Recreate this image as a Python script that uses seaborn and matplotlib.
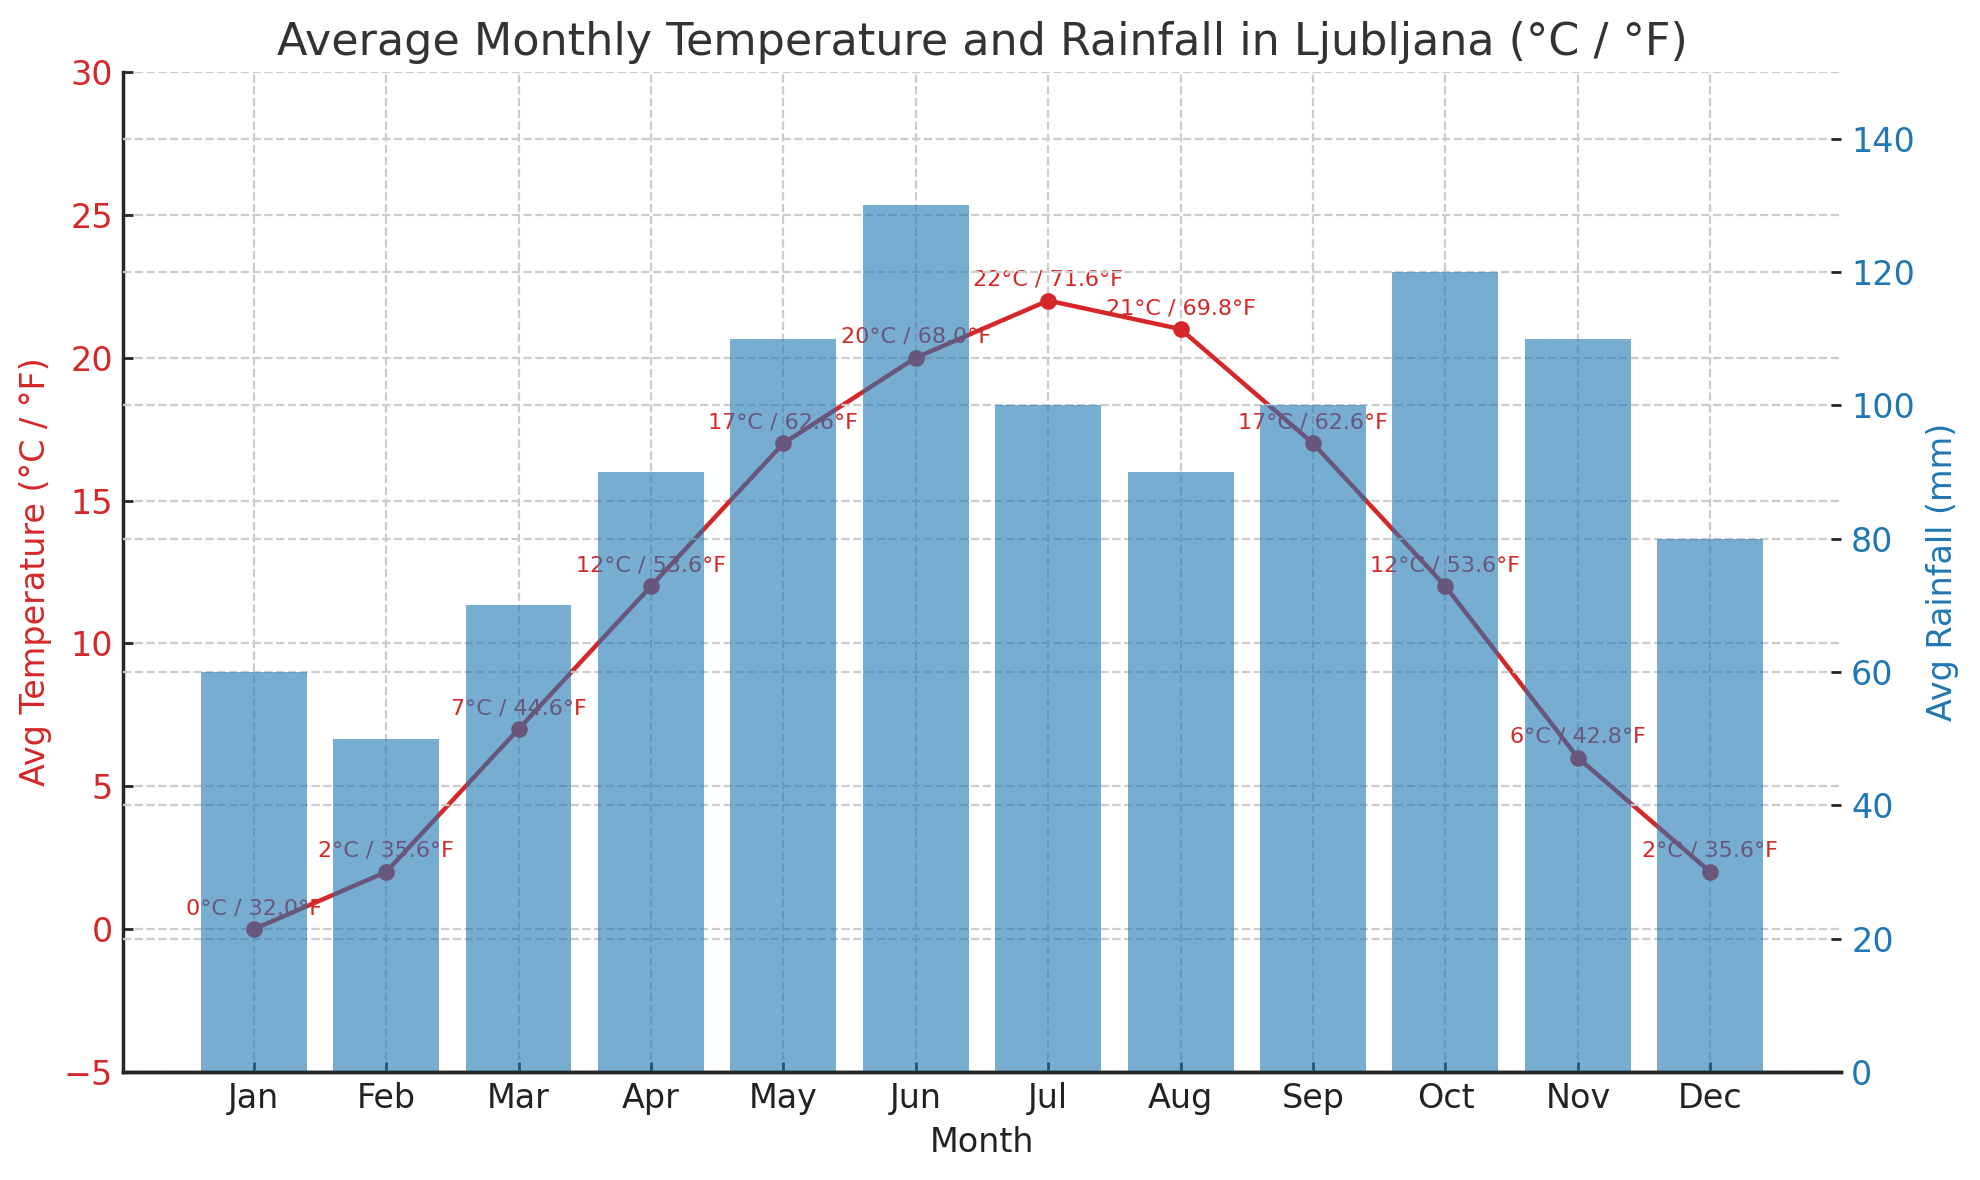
import matplotlib
matplotlib.use("Agg")
import matplotlib.pyplot as plt
import seaborn as sns
import pandas as pd

months = ["Jan", "Feb", "Mar", "Apr", "May", "Jun", "Jul", "Aug", "Sep", "Oct", "Nov", "Dec"]
temp_c = [0, 2, 7, 12, 17, 20, 22, 21, 17, 12, 6, 2]
rain_mm = [60, 50, 70, 90, 110, 130, 100, 90, 100, 120, 110, 80]
temp_ticks = [-5, 0, 5, 10, 15, 20, 25, 30]
rain_ticks = [0, 20, 40, 60, 80, 100, 120, 140]

RED = "#d62728"
BLUE = "#1f77b4"

sns.set_style("ticks")
plt.rcParams["font.family"] = ["DejaVu Sans"]
plt.rcParams["axes.linewidth"] = 1.25
plt.rcParams["xtick.major.width"] = 1.0
plt.rcParams["ytick.major.width"] = 1.0

df = pd.DataFrame({"Month": months, "Temp": temp_c, "Rain": rain_mm})
df["pos"] = range(len(months))

fig = plt.figure(figsize=(9.9, 5.9), dpi=200)
ax1 = fig.add_axes([0.0619, 0.0915, 0.8681, 0.8475])

grid_kw = dict(color="#cccccc", linestyle="--", linewidth=0.8)

sns.lineplot(data=df, x="pos", y="Temp", ax=ax1, color=RED, marker="o",
             linewidth=1.6, markersize=6, markeredgewidth=0, zorder=3)
for i, t in enumerate(temp_c):
    f = t * 9 / 5 + 32
    ax1.annotate(f"{t}°C / {f:.1f}°F", (i, t), xytext=(0, 4), textcoords="offset points",
                 ha="center", va="bottom", color=RED, fontsize=8)

ax1.set_ylim(-5, 30)
ax1.set_yticks(temp_ticks)
ax1.set_ylabel("Avg Temperature (°C / °F)", color=RED, fontsize=12)
ax1.tick_params(axis="y", labelcolor=RED, labelsize=12, direction="in")
ax1.tick_params(axis="x", labelsize=12, labelcolor="#222222", direction="in")
ax1.grid(True, **grid_kw)
ax1.set_axisbelow(True)
for s in ["top", "right"]:
    ax1.spines[s].set_visible(False)

ax2 = ax1.twinx()
sns.barplot(data=df, x="pos", y="Rain", ax=ax2, color=BLUE, alpha=0.6, saturation=1,
            linewidth=0, width=0.8, native_scale=True)
ax2.set_ylim(0, 150)
ax2.set_yticks(rain_ticks)
ax2.set_ylabel("Avg Rainfall (mm)", color=BLUE, fontsize=12)
ax2.tick_params(axis="y", labelcolor=BLUE, labelsize=12, direction="in")
ax2.yaxis.grid(True, **grid_kw)
ax2.set_axisbelow(True)
for s in ["top", "right", "left"]:
    ax2.spines[s].set_visible(False)
ax2.spines["bottom"].set_visible(True)

ax1.set_xlim(-0.99, 11.99)
ax1.set_xticks(df["pos"])
ax1.set_xticklabels(months)
ax1.set_xlabel("Month", fontsize=12, color="#222222")

ax1.set_title("Average Monthly Temperature and Rainfall in Ljubljana (°C / °F)",
              fontsize=16, color="#333333", pad=6)

fig.savefig("out.png", dpi=200)
